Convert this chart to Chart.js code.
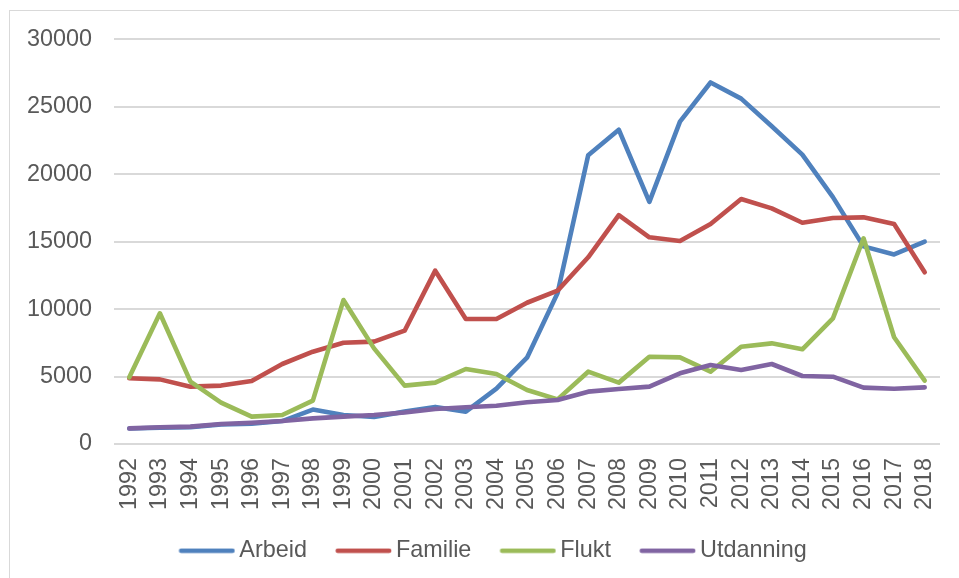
<!DOCTYPE html>
<html>
<head>
<meta charset="utf-8">
<script src="https://cdn.jsdelivr.net/npm/chart.js@4/dist/chart.umd.min.js"></script>
<style>
  html, body { margin: 0; padding: 0; background: #ffffff; }
  body { width: 959px; height: 578px; position: relative; overflow: hidden; }
  #frame { position: absolute; left: 9px; top: 10px; width: 1000px; height: 620px; border: 1.5px solid #d9d9d9; box-sizing: border-box; }
  #wrap { position: absolute; left: 0; top: 0; width: 959px; height: 578px; }
</style>
</head>
<body>
<div id="frame"></div>
<div id="wrap"><canvas id="c" width="959" height="578"></canvas></div>
<script>
const years = ["1992","1993","1994","1995","1996","1997","1998","1999","2000","2001","2002","2003","2004","2005","2006","2007","2008","2009","2010","2011","2012","2013","2014","2015","2016","2017","2018"];
const arbeid    = [1150, 1200, 1250, 1450, 1500, 1700, 2550, 2150, 2000, 2400, 2750, 2400, 4100, 6400, 11200, 21400, 23300, 17950, 23900, 26800, 25600, 23550, 21450, 18300, 14650, 14050, 15000];
const familie   = [4870, 4790, 4250, 4330, 4670, 5930, 6840, 7510, 7590, 8400, 12850, 9270, 9270, 10470, 11370, 13840, 16970, 15320, 15050, 16310, 18160, 17470, 16400, 16750, 16800, 16310, 12730];
const flukt     = [4940, 9690, 4620, 3070, 2030, 2150, 3210, 10670, 7090, 4330, 4550, 5560, 5190, 4000, 3310, 5360, 4550, 6470, 6420, 5360, 7210, 7460, 7020, 9310, 15250, 7910, 4700];
const utdanning = [1160, 1240, 1285, 1480, 1580, 1700, 1900, 2030, 2150, 2330, 2590, 2720, 2840, 3090, 3260, 3880, 4080, 4250, 5240, 5860, 5490, 5930, 5040, 4990, 4180, 4100, 4200];
const seriesNames = ["Arbeid", "Familie", "Flukt", "Utdanning"];
const yTicks = [0, 5000, 10000, 15000, 20000, 25000, 30000];

const colors = ["#4f81bd", "#c0504d", "#9bbb59", "#8064a2"];
const FONT = "'Liberation Sans', Arial, sans-serif";
const FS = 23.4;
const TXT = "#595959";

// legend swatch geometry
const BOXW = 68.3;      // legend box width (text starts at BOXW + FS/2)
const SW_OFF = 19.5;    // visible line start relative to item x
const SW_LEN = 56;      // visible line length including round caps
const SW_LW = 4.6;
function swatch(color) {
  const W = 84, H = 6, cx = W / 2;
  const c = document.createElement('canvas');
  c.width = W; c.height = H;
  const g = c.getContext('2d');
  g.strokeStyle = color; g.lineWidth = SW_LW; g.lineCap = 'round';
  const x0 = cx - BOXW / 2 + SW_OFF + SW_LW / 2;
  const x1 = cx - BOXW / 2 + SW_OFF + SW_LEN - SW_LW / 2;
  g.beginPath(); g.moveTo(x0, H / 2); g.lineTo(x1, H / 2); g.stroke();
  return c;
}
const swatches = colors.map(swatch);

const values = [arbeid, familie, flukt, utdanning];
const datasets = seriesNames.map((name, i) => ({
  label: name,
  data: values[i],
  borderColor: colors[i],
  backgroundColor: colors[i],
  borderWidth: 4.6,
  borderCapStyle: 'round',
  borderJoinStyle: 'round',
  pointRadius: 0,
  pointHoverRadius: 0,
  tension: 0,
  fill: false,
  order: 3 - i
}));

new Chart(document.getElementById('c'), {
  type: 'line',
  data: { labels: years, datasets },
  options: {
    responsive: false,
    animation: false,
    events: [],
    layout: { padding: { left: 26, right: 19, top: 39.3, bottom: 5.6 } },
    plugins: {
      tooltip: { enabled: false },
      legend: {
        position: 'bottom',
        labels: {
          usePointStyle: true,
          pointStyleWidth: BOXW,
          padding: 9,
          color: TXT,
          font: { family: FONT, size: FS },
          generateLabels(chart) {
            const items = Chart.defaults.plugins.legend.labels.generateLabels(chart);
            items.sort((a, b) => a.datasetIndex - b.datasetIndex);
            items.forEach(it => { it.pointStyle = swatches[it.datasetIndex]; });
            return items;
          }
        }
      }
    },
    scales: {
      x: {
        type: 'category',
        offset: true,
        grid: { display: false, drawTicks: false },
        border: { display: false },
        ticks: {
          minRotation: 90, maxRotation: 90, autoSkip: false,
          padding: 14,
          color: TXT,
          font: { family: FONT, size: FS }
        },
        afterFit(scale) {
          scale.height = 86;
          scale.paddingLeft = 0;
          scale.paddingRight = 0;
        }
      },
      y: {
        min: 0, max: 30000,
        afterBuildTicks(scale) { scale.ticks = yTicks.map(v => ({ value: v })); },
        grid: { color: "#d9d9d9", lineWidth: 2, drawTicks: false },
        border: { display: false },
        ticks: {
          padding: 22,
          color: TXT,
          font: { family: FONT, size: FS },
          callback: v => String(v)
        },
        afterFit(scale) { scale.width = 88; }
      }
    }
  }
});
</script>
</body>
</html>
